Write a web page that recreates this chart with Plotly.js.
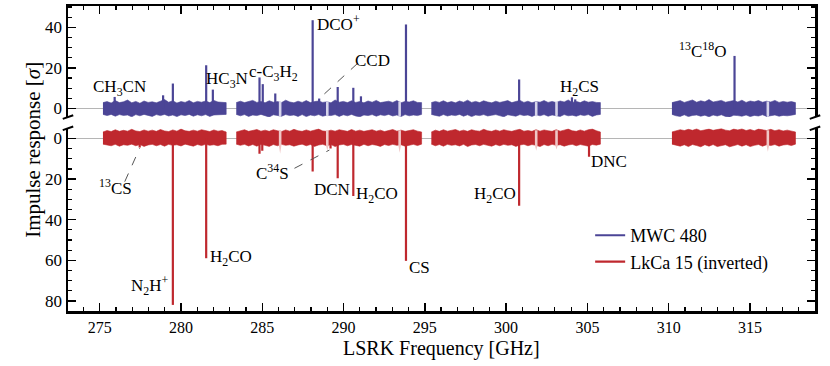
<!DOCTYPE html>
<html>
<head>
<meta charset="utf-8">
<script src="https://cdn.plot.ly/plotly-3.0.1.min.js"></script>
<style>
  html, body { margin: 0; padding: 0; background: #fff; }
  #chart { width: 830px; height: 366px; }
</style>
</head>
<body>
<div id="chart"></div>
<script>
// Two stacked spectra (MWC 480 on top, LkCa 15 inverted below) sharing the
// LSRK frequency axis. The noise floor is drawn as a band from envelope values
// detected lines are drawn as spikes from zero.

const SERIF = "Liberation Serif, Times New Roman, serif";
const PURPLE = "#4b4596";
const RED = "#bf282e";
const PALE_PURPLE = "#d6d4ea";
const PALE_RED = "#f0c6c6";

// Spectral window edges [GHz]
const SEGMENTS = [[275.2, 282.78], [283.4, 294.8], [295.4, 305.8], [310.2, 317.8]];

// MWC 480 noise envelope per window (upper / lower edge, units of sigma)
const TOP_HI = [
  [2.9,3.4,2.7,3.9,2.9,3.3,4.2,2.8,3.5,2.6,3.7,3.0,3.3,2.8,3.6,4.4,3.1,3.8,2.7,3.4,3.0,3.9,2.8,3.5,3.1,3.7,2.9,4.0,3.2,3.0,2.9],
  [2.9,3.6,2.9,3.3,4.0,3.0,3.5,2.8,3.8,3.1,3.4,2.9,4.1,3.2,2.8,3.6,3.0,3.9,2.9,3.4,3.7,3.0,3.3,2.8,4.2,3.1,3.5,2.9,3.8,3.0,3.4,2.8,3.7,3.1,4.0,2.9,3.3,3.6,3.0,3.9,2.8,3.5,3.2,3.8,3.0,2.9],
  [2.9,3.5,3.0,3.8,2.9,3.4,2.8,3.7,3.1,4.1,3.0,3.5,2.9,3.8,3.2,2.8,3.6,3.0,3.4,3.9,2.9,3.3,4.0,3.0,3.6,2.8,3.4,3.1,3.9,3.0,3.5,2.9,3.7,3.2,4.2,3.0,3.5,2.9,3.8,3.1,3.4,3.0,2.9],
  [2.9,3.5,3.9,3.0,3.7,4.2,3.1,3.8,3.3,4.4,3.2,3.6,4.0,3.1,3.5,3.9,3.2,4.1,3.0,3.7,3.3,3.9,3.1,3.6,3.2,4.0,3.0,3.5,3.1,3.4,2.9],
];
const TOP_LO = [
  [-2.9,-3.5,-2.9,-3.8,-3.0,-3.4,-3.2,-4.1,-3.0,-3.6,-2.9,-3.4,-3.9,-3.0,-3.5,-2.9,-3.7,-3.2,-4.0,-3.1,-3.5,-2.9,-3.8,-3.1,-3.6,-3.0,-3.9,-3.2,-3.4,-3.0,-2.9],
  [-2.9,-3.6,-3.0,-3.9,-3.2,-3.5,-2.9,-3.7,-4.2,-3.1,-3.4,-3.8,-3.0,-3.5,-3.2,-3.9,-3.0,-4.0,-3.2,-3.6,-3.0,-3.8,-3.3,-3.5,-3.0,-3.9,-3.1,-3.6,-2.9,-3.7,-4.1,-3.2,-3.5,-3.0,-3.8,-3.1,-3.5,-2.9,-3.7,-3.2,-4.0,-3.0,-3.6,-3.2,-3.5,-2.9],
  [-2.9,-3.4,-3.8,-3.0,-3.7,-3.2,-3.5,-2.9,-3.8,-3.1,-4.0,-3.2,-3.5,-3.0,-3.7,-3.3,-3.0,-3.6,-4.1,-3.1,-3.4,-3.8,-3.0,-3.5,-3.2,-3.9,-3.1,-3.6,-3.0,-3.8,-3.2,-3.5,-3.9,-3.0,-3.6,-3.3,-3.8,-3.1,-3.5,-3.0,-3.9,-3.2,-2.9],
  [-2.9,-3.6,-3.9,-3.1,-4.0,-3.4,-3.2,-3.8,-3.3,-4.1,-3.2,-3.7,-3.1,-3.9,-4.2,-3.3,-3.5,-3.8,-3.2,-4.0,-3.4,-3.7,-3.1,-3.9,-3.5,-3.2,-3.8,-3.4,-3.6,-3.3,-2.9],
];

// LkCa 15 noise envelope (inverted panel: negative = drawn above zero)
const BOT_UP = [
  [-3.2,-3.9,-3.4,-4.3,-3.5,-4.0,-3.6,-4.5,-3.7,-3.4,-4.2,-3.6,-4.1,-3.5,-4.4,-3.7,-3.4,-4.2,-3.6,-4.6,-3.8,-3.5,-4.1,-3.6,-4.3,-3.7,-3.4,-4.2,-3.6,-3.9,-3.2],
  [-3.2,-3.8,-4.3,-3.5,-4.0,-4.4,-3.6,-4.1,-3.5,-4.3,-3.8,-3.4,-4.2,-3.6,-4.5,-3.8,-3.5,-4.2,-3.6,-4.0,-4.6,-3.7,-3.5,-4.1,-3.6,-4.3,-3.8,-3.5,-4.4,-3.6,-4.1,-3.5,-3.9,-4.3,-3.6,-4.1,-3.4,-3.8,-4.4,-3.6,-4.1,-3.5,-3.9,-4.3,-3.6,-3.2],
  [-3.2,-4.1,-3.5,-4.3,-3.6,-3.9,-4.4,-3.6,-4.1,-3.5,-4.3,-3.8,-3.6,-4.5,-3.8,-3.5,-4.2,-3.6,-4.3,-3.8,-3.5,-4.1,-4.5,-3.6,-3.9,-3.5,-4.3,-3.6,-4.2,-3.8,-3.5,-4.3,-3.6,-4.1,-4.6,-3.8,-3.5,-4.2,-3.6,-4.3,-4.6,-3.8,-3.2],
  [-3.2,-3.8,-4.3,-3.9,-4.5,-4.0,-4.7,-3.8,-4.3,-4.6,-4.0,-4.4,-4.8,-4.1,-3.8,-4.6,-4.2,-4.7,-3.9,-4.4,-3.8,-4.6,-4.1,-3.9,-4.5,-3.8,-4.3,-3.7,-4.1,-3.8,-3.2],
];
const BOT_DN = [
  [2.8,3.2,3.6,2.9,3.8,3.1,3.4,2.8,3.6,3.0,3.9,3.2,2.9,3.6,3.0,3.8,2.9,3.4,3.1,3.7,2.8,3.3,3.8,3.0,3.5,2.9,3.4,3.1,3.6,2.9,2.8],
  [2.8,3.4,2.9,3.7,3.0,3.8,2.9,3.4,3.9,3.0,3.6,2.9,3.4,3.1,3.8,3.2,2.8,3.6,3.0,3.9,3.2,2.9,3.6,3.0,4.0,3.2,2.9,3.6,3.0,3.4,3.8,2.9,3.6,3.0,3.3,3.9,3.0,3.5,2.9,3.4,3.1,3.8,3.2,2.9,3.5,2.8],
  [2.8,3.6,3.0,3.8,2.9,3.4,3.1,3.7,2.9,4.0,3.2,3.0,3.6,2.9,3.4,3.8,3.0,3.6,2.9,3.4,3.1,3.9,3.2,2.9,3.6,3.0,3.4,4.0,3.0,3.6,2.9,3.4,3.1,3.8,3.2,2.9,3.6,3.0,3.4,3.8,3.0,3.3,2.8],
  [2.8,3.3,3.8,3.1,4.0,3.0,3.5,4.1,3.1,3.8,3.0,4.0,3.4,3.1,4.1,3.4,3.0,3.8,3.1,4.0,3.4,3.0,3.8,3.1,3.5,3.0,3.8,3.2,3.0,3.5,2.8],
];

// Flagged (pale) channel patches: centre frequency and dip depth per panel
const PALE_FREQ = [286.1, 289.0, 293.45, 301.85, 303.1, 316.1];
const PALE_TOP_DIP = [-4.5, -4.0, -5.0, -4.0, -4.0, -4.5];
const PALE_BOT_DIP = [7.5, 6.0, 7.0, 6.0, 5.5, 6.5];

// Detected lines: frequency [GHz] and peak [sigma]
const TOP_LINE_FREQ = [275.92, 278.9, 279.5, 281.55, 281.96, 284.83, 285.03, 285.8, 288.1, 288.5, 289.64, 290.6, 291.07, 293.84, 300.8, 304.05, 304.25, 314.05];
const TOP_LINE_PEAK = [5.7, 6.5, 12.3, 21.3, 9.3, 15.3, 12.0, 7.4, 43.5, 4.9, 10.6, 10.2, 6.0, 41.4, 14.3, 5.5, 4.5, 25.9];
const BOT_LINE_FREQ = [277.46, 279.5, 281.55, 284.83, 285.0, 288.1, 289.2, 289.64, 290.6, 293.84, 300.8, 305.1];
const BOT_LINE_PEAK = [4.5, 82.0, 59.0, 7.5, 6.0, 16.3, 5.0, 19.6, 28.3, 60.3, 33.2, 9.0];

// Line labels: [text, x, y]
const TOP_LABELS = [
  ["CH<sub>3</sub>CN", 276.2, 9.9],
  ["HC<sub>3</sub>N", 282.83, 13.9],
  ["c-C<sub>3</sub>H<sub>2</sub>", 285.7, 17.4],
  ["DCO<sup>+</sup>", 289.7, 42.0],
  ["CCD", 291.8, 23.8],
  ["<sup>13</sup>C<sup>18</sup>O", 312.1, 28.7],
  ["H<sub>2</sub>CS", 304.5, 9.9],
];
const BOT_LABELS = [
  ["<sup>13</sup>CS", 276.0, 23.7],
  ["C<sup>34</sup>S", 285.6, 16.5],
  ["DCN", 289.3, 24.9],
  ["H<sub>2</sub>CO", 292.05, 27.8],
  ["H<sub>2</sub>CO", 299.3, 27.8],
  ["DNC", 306.3, 11.4],
  ["N<sub>2</sub>H<sup>+</sup>", 278.07, 72.2],
  ["H<sub>2</sub>CO", 283.1, 59.0],
  ["CS", 294.7, 63.8],
];
// Dashed leader lines: [x0, y0, x1, y1, yref]
const LEADERS = [
  [290.86, 22.2, 288.51, 4.9, "y2"],
  [276.54, 21.3, 277.46, 4.8, "y"],
  [286.98, 14.7, 289.13, 5.7, "y"],
];

function bandTrace(hiSets, loSets, color, xa, ya) {
  const x = [], y = [];
  SEGMENTS.forEach(([a, b], i) => {
    const hi = hiSets[i], lo = loSets[i];
    hi.forEach((v, j) => { x.push(a + j * (b - a) / (hi.length - 1)); y.push(v); });
    for (let j = lo.length - 1; j >= 0; j--) { x.push(a + j * (b - a) / (lo.length - 1)); y.push(lo[j]); }
    x.push(null); y.push(null);
  });
  return { x, y, type: "scatter", mode: "lines", fill: "toself", fillcolor: color,
    line: { width: 0.6, color }, xaxis: xa, yaxis: ya, showlegend: false, hoverinfo: "skip" };
}

function paleTrace(dips, top, bottom, color, xa, ya) {
  const w = 0.08, x = [], y = [];
  PALE_FREQ.forEach((c, i) => {
    x.push(c - w, c + w, c + w, c, c - w, null);
    y.push(top, top, bottom, dips[i], bottom, null);
  });
  return { x, y, type: "scatter", mode: "lines", fill: "toself", fillcolor: color,
    line: { width: 0, color }, xaxis: xa, yaxis: ya, showlegend: false, hoverinfo: "skip" };
}

function spikeTrace(freqs, peaks, name, color, xa, ya) {
  return {
    x: freqs.flatMap(f => [f, f, null]), y: peaks.flatMap(p => [0, p, null]),
    name, type: "scatter", mode: "lines", line: { width: 2.2, color },
    xaxis: xa, yaxis: ya, hoverinfo: "skip",
  };
}

const tickStyle = {
  ticks: "inside", ticklen: 8, tickwidth: 1.5, tickcolor: "black",
  showline: true, linewidth: 2.5, linecolor: "black",
  showgrid: false, zeroline: false,
  tickfont: { family: SERIF, size: 17, color: "black" },
};

const xMinor = { dtick: 1, tick0: 275, ticks: "inside", ticklen: 4, tickwidth: 1.2, tickcolor: "black", showgrid: false };
const yMinor = { dtick: 5, tick0: 0, ticks: "inside", ticklen: 4, tickwidth: 1.2, tickcolor: "black", showgrid: false };

const traces = [
  bandTrace(TOP_HI, TOP_LO, PURPLE, "x2", "y2"),
  bandTrace(BOT_UP, BOT_DN, RED, "x", "y"),
  paleTrace(PALE_TOP_DIP, 3.4, -3.5, PALE_PURPLE, "x2", "y2"),
  paleTrace(PALE_BOT_DIP, -4.0, 3.3, PALE_RED, "x", "y"),
  spikeTrace(TOP_LINE_FREQ, TOP_LINE_PEAK, "MWC 480", PURPLE, "x2", "y2"),
  spikeTrace(BOT_LINE_FREQ, BOT_LINE_PEAK, "LkCa 15 (inverted)", RED, "x", "y"),
];

const labelFont = { family: SERIF, size: 17, color: "black" };
const annotations = [
  ...TOP_LABELS.map(([t, x, y]) => ({ text: t, x, y, xref: "x2", yref: "y2", showarrow: false, font: labelFont })),
  ...BOT_LABELS.map(([t, x, y]) => ({ text: t, x, y, xref: "x", yref: "y", showarrow: false, font: labelFont })),
  { text: "Impulse response [<i>σ</i>]", xref: "paper", yref: "paper", x: -0.065, y: 0.53,
    textangle: -90, showarrow: false, font: { family: SERIF, size: 21, color: "black" } },
  { text: "LSRK Frequency [GHz]", xref: "paper", yref: "paper", x: 0.5, y: -0.124,
    yanchor: "middle", showarrow: false, font: { family: SERIF, size: 20, color: "black" } },
];

// Axis-break marks on the left and right spines
const breakMark = (x, y) => ({ type: "line", xref: "paper", yref: "paper",
  x0: x - 0.007, y0: y - 0.006, x1: x + 0.007, y1: y + 0.006, line: { color: "black", width: 2 } });
const shapes = [
  breakMark(0, 0.636), breakMark(0, 0.599), breakMark(1, 0.636), breakMark(1, 0.599),
  ...LEADERS.map(([x0, y0, x1, y1, yr]) => ({ type: "line", xref: yr === "y2" ? "x2" : "x", yref: yr,
    x0, y0, x1, y1, line: { color: "#555", width: 1, dash: "dash" } })),
];

const layout = {
  width: 830, height: 366,
  margin: { l: 68, r: 15, t: 6, b: 55 },
  paper_bgcolor: "white", plot_bgcolor: "white",
  font: { family: SERIF, size: 16, color: "black" },
  xaxis: Object.assign({}, tickStyle, {
    range: [273.05, 319.0], tick0: 275, dtick: 5, anchor: "y", minor: xMinor,
    tickfont: { family: SERIF, size: 16, color: "black" },
  }),
  xaxis2: Object.assign({}, tickStyle, {
    matches: "x", anchor: "y2", side: "top", showticklabels: false, tick0: 275, dtick: 5, minor: xMinor,
  }),
  yaxis: Object.assign({}, tickStyle, {
    domain: [0, 0.599], range: [85, -5], tick0: 0, dtick: 20, minor: yMinor, mirror: "ticks",
    zeroline: true, zerolinecolor: "#b5b5b5", zerolinewidth: 1.5,
  }),
  yaxis2: Object.assign({}, tickStyle, {
    domain: [0.636, 1], range: [-4.2, 50.5], tick0: 0, dtick: 20, minor: yMinor, mirror: "ticks",
    zeroline: true, zerolinecolor: "#b5b5b5", zerolinewidth: 1.5,
  }),
  showlegend: true,
  legend: { x: 0.699, y: 0.308, xanchor: "left", yanchor: "top", bgcolor: "rgba(0,0,0,0)",
    font: { family: SERIF, size: 18, color: "black" }, tracegroupgap: 0 },
  annotations, shapes,
};

Plotly.newPlot("chart", traces, layout, { staticPlot: true, displayModeBar: false });
</script>
</body>
</html>
